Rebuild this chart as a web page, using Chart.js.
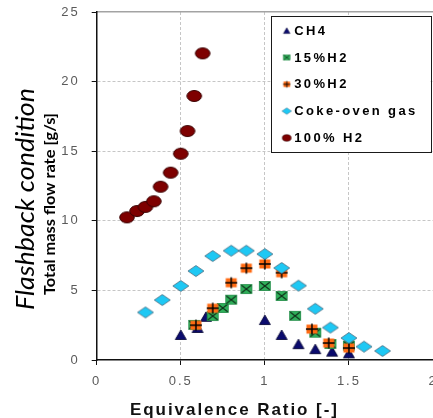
<!DOCTYPE html>
<html>
<head>
<meta charset="utf-8">
<script src="https://cdn.jsdelivr.net/npm/chart.js@4/dist/chart.umd.min.js"></script>
<style>
html,body{margin:0;padding:0;background:#fff;overflow:hidden;width:433px;height:418px}
canvas{display:block}
</style>
</head>
<body>
<canvas id="c" width="440" height="418" style="width:440px;height:418px"></canvas>
<script>
// ---- data ----
const xTickValues = [0, 0.5, 1, 1.5, 2];
const xTickLabels = ['0', '0.5', '1', '1.5', '2'];
const yTickValues = [0, 5, 10, 15, 20, 25];
const yTickLabels = ['0', '5', '10', '15', '20', '25'];
const seriesLabels = ['CH4', '15%H2', '30%H2', 'Coke-oven gas', '100% H2'];
const xTitle = 'Equivalence Ratio [-]';
const yTitleTop = 'Flashback condition';
const yTitle = 'Total mass flow rate [g/s]';

const ch4Phi   = [0.5, 0.6, 0.65, 1.0, 1.1, 1.2, 1.3, 1.4, 1.5];
const ch4Flow  = [1.8, 2.3, 3.1, 2.87, 1.8, 1.14, 0.78, 0.6, 0.48];
const h15Phi   = [0.58, 0.69, 0.75, 0.8, 0.89, 1.0, 1.1, 1.18, 1.3, 1.39, 1.5];
const h15Flow  = [2.52, 3.16, 3.74, 4.33, 5.1, 5.32, 4.6, 3.17, 1.96, 1.15, 1.03];
const h30Phi   = [0.59, 0.69, 0.8, 0.89, 1.0, 1.1, 1.28, 1.38, 1.5];
const h30Flow  = [2.5, 3.72, 5.55, 6.6, 6.9, 6.27, 2.22, 1.22, 0.86];
const cogPhi   = [0.29, 0.39, 0.5, 0.59, 0.69, 0.8, 0.89, 1.0, 1.1, 1.2, 1.3, 1.39, 1.5, 1.59, 1.7];
const cogFlow  = [3.42, 4.31, 5.32, 6.39, 7.47, 7.85, 7.85, 7.61, 6.61, 5.34, 3.68, 2.33, 1.58, 0.96, 0.65];
const h100Phi  = [0.18, 0.24, 0.29, 0.34, 0.38, 0.44, 0.5, 0.54, 0.58, 0.63];
const h100Flow = [10.25, 10.7, 11.0, 11.4, 12.45, 13.46, 14.82, 16.45, 18.97, 22.03];

// ---- marker images ----
function makeMarker(kind, s) {
  const W = 20, H = 16;
  const c = document.createElement('canvas');
  c.width = W; c.height = H;
  const g = c.getContext('2d');
  g.translate(W / 2, H / 2);
  g.scale(s, s);
  if (kind === 'tri') {
    g.beginPath(); g.moveTo(0, -5); g.lineTo(5.5, 4.5); g.lineTo(-5.5, 4.5); g.closePath();
    g.fillStyle = '#0b0b6e'; g.fill();
    g.strokeStyle = '#00002e'; g.lineWidth = 0.8; g.stroke();
  } else if (kind === 'sqx') {
    g.fillStyle = '#2fb05a'; g.fillRect(-5.5, -4.5, 11, 9);
    g.strokeStyle = '#1f8a45'; g.lineWidth = 0.8; g.strokeRect(-5.5, -4.5, 11, 9);
    g.beginPath(); g.moveTo(-4.8, -3.8); g.lineTo(4.8, 3.8); g.moveTo(4.8, -3.8); g.lineTo(-4.8, 3.8);
    g.strokeStyle = '#10301a'; g.lineWidth = 1.1; g.stroke();
  } else if (kind === 'sqp') {
    g.fillStyle = '#ff6a12'; g.fillRect(-5.5, -4.5, 11, 9);
    g.beginPath(); g.moveTo(-6, 0); g.lineTo(6, 0); g.moveTo(0, -5.5); g.lineTo(0, 5.5);
    g.strokeStyle = '#000'; g.lineWidth = 1.5; g.stroke();
  } else if (kind === 'dia') {
    g.beginPath(); g.moveTo(0, -5.5); g.lineTo(8, 0); g.lineTo(0, 5.5); g.lineTo(-8, 0); g.closePath();
    g.fillStyle = '#1ec8f4'; g.fill();
    g.strokeStyle = '#4f6d80'; g.lineWidth = 0.8; g.stroke();
  } else if (kind === 'circ') {
    g.beginPath(); g.ellipse(0, 0, 7.3, 5.5, 0, 0, Math.PI * 2);
    g.fillStyle = '#7e0000'; g.fill();
    g.strokeStyle = '#3a0000'; g.lineWidth = 1; g.stroke();
  }
  return c;
}
const kinds = ['tri', 'sqx', 'sqp', 'dia', 'circ'];
const bigMarkers = kinds.map(k => makeMarker(k, 1));
const smallMarkers = kinds.map(k => makeMarker(k, 0.6));

const toPts = (xs, ys) => xs.map((x, i) => ({x: x, y: ys[i]}));
const seriesData = [
  toPts(ch4Phi, ch4Flow),
  toPts(h15Phi, h15Flow),
  toPts(h30Phi, h30Flow),
  toPts(cogPhi, cogFlow),
  toPts(h100Phi, h100Flow)
];

const datasets = seriesData.map((d, i) => ({
  label: seriesLabels[i],
  data: d,
  pointStyle: bigMarkers[i],
  pointRadius: 6,
  pointHoverRadius: 6,
  order: 5 - i,
  showLine: false
}));

// ---- titles & legend plugin ----
const decor = {
  id: 'decor',
  beforeDraw(chart) {
    chart.ctx.letterSpacing = '2px';
  },
  afterDraw(chart) {
    const ctx = chart.ctx;
    const ca = chart.chartArea;
    ctx.letterSpacing = '0px';

    // x title (letter spaced, fitted to width)
    ctx.save();
    ctx.font = 'bold 17px "Liberation Sans", Arial, sans-serif';
    const mx = ctx.measureText(xTitle).width;
    const lsx = (207 - mx) / (xTitle.length - 1);
    ctx.letterSpacing = lsx.toFixed(2) + 'px';
    ctx.fillStyle = '#111';
    ctx.textAlign = 'left';
    ctx.textBaseline = 'alphabetic';
    ctx.fillText(xTitle, ca.left + 33.3, 414.5);
    ctx.restore();

    // rotated y titles (scaled to width)
    const rot = (text, font, width, bx, cy) => {
      ctx.save();
      ctx.letterSpacing = '0px';
      ctx.font = font;
      const m = ctx.measureText(text).width;
      ctx.translate(bx, cy);
      ctx.rotate(-Math.PI / 2);
      ctx.scale(width / m, 1);
      ctx.fillStyle = '#000';
      ctx.textAlign = 'center';
      ctx.textBaseline = 'alphabetic';
      ctx.fillText(text, 0, 0);
      ctx.restore();
    };
    rot(yTitleTop, 'italic 26px Lato, "Open Sans", sans-serif', 222, 34, 199);
    rot(yTitle, 'bold 16px Lato, "Liberation Sans", sans-serif', 182, 55, 204);

    // legend box
    const lx = ca.left + 174, ly = ca.top + 4, lw = 159.5, lh = 136.3;
    ctx.save();
    ctx.fillStyle = '#fff';
    ctx.fillRect(lx, ly, lw, lh);
    ctx.strokeStyle = '#1a1a1a';
    ctx.lineWidth = 1;
    ctx.strokeRect(Math.round(lx) + 0.5, Math.round(ly) + 0.5, Math.round(lw), Math.round(lh));
    ctx.font = 'bold 13px "Liberation Sans", Arial, sans-serif';
    const mLong = ctx.measureText(seriesLabels[3]).width;
    const lsl = (121 - mLong) / (seriesLabels[3].length - 1);
    ctx.letterSpacing = lsl.toFixed(2) + 'px';
    ctx.fillStyle = '#000';
    ctx.textAlign = 'left';
    ctx.textBaseline = 'middle';
    for (let i = 0; i < seriesLabels.length; i++) {
      const yy = ly + 14.7 + i * 26.8;
      const mk = smallMarkers[i];
      ctx.drawImage(mk, lx + 16 - mk.width / 2, yy - mk.height / 2);
      ctx.fillText(seriesLabels[i], lx + 23.5, yy + 0.5);
    }
    ctx.restore();
  }
};

new Chart(document.getElementById('c'), {
  type: 'scatter',
  data: { datasets: datasets },
  plugins: [decor],
  options: {
    responsive: false,
    animation: false,
    events: [],
    layout: { padding: { top: 12, left: 0, right: 0, bottom: 0 } },
    plugins: { legend: { display: false }, tooltip: { enabled: false } },
    scales: {
      x: {
        type: 'linear', position: 'bottom', min: 0, max: 2,
        afterBuildTicks: s => { s.ticks = xTickValues.map(v => ({ value: v })); },
        ticks: {
          callback: (v, i) => xTickLabels[i],
          font: { family: '"Liberation Sans", Arial, sans-serif', size: 13 },
          color: '#5a5a5a', padding: 9, maxRotation: 0, autoSkip: false
        },
        grid: {
          color: c => (c.tick && c.tick.value === 0) ? 'rgba(0,0,0,0)' : '#c6c6c6',
          lineWidth: 1, tickLength: 5, tickColor: '#111', tickWidth: 1
        },
        border: { color: '#111', width: 1.5, dash: [3, 2] },
        afterFit: s => { s.height = 58; s.paddingLeft = 0; s.paddingRight = 3.3; }
      },
      x2: {
        type: 'linear', position: 'top', min: 0, max: 1, display: true,
        ticks: { display: false },
        grid: { display: false, drawTicks: false },
        border: { display: true, color: '#a3a3a3', width: 1.5 },
        afterFit: s => { s.height = 0; s.paddingLeft = 0; s.paddingRight = 0; }
      },
      y: {
        type: 'linear', position: 'left', min: 0, max: 25,
        afterBuildTicks: s => { s.ticks = yTickValues.map(v => ({ value: v })); },
        ticks: {
          callback: (v, i) => yTickLabels[i],
          font: { family: '"Liberation Sans", Arial, sans-serif', size: 13 },
          color: '#5a5a5a', padding: 12
        },
        grid: {
          color: c => (c.tick && (c.tick.value === 0 || c.tick.value === 25)) ? 'rgba(0,0,0,0)' : '#c6c6c6',
          lineWidth: 1, tickLength: 5, tickColor: '#111', tickWidth: 1
        },
        border: { color: '#111', width: 1.5, dash: [3, 2] },
        afterFit: s => { s.width = 96.7; s.paddingTop = 0; s.paddingBottom = 0; }
      }
    }
  }
});
</script>
</body>
</html>
